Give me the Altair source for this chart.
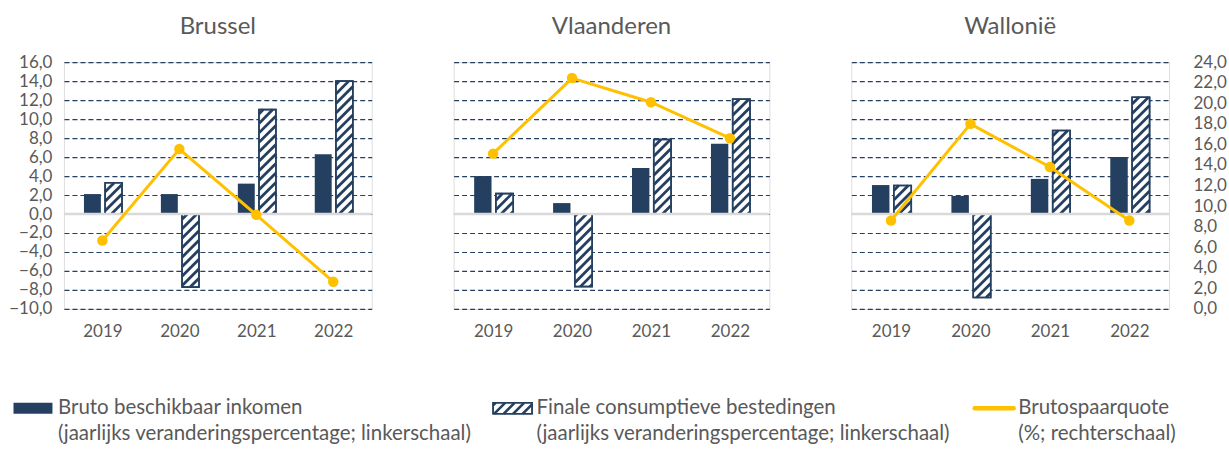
import altair as alt
import pandas as pd
import numpy as np

# ---------------- data ----------------
years = ["2019", "2020", "2021", "2022"]
regions = ["Brussel", "Vlaanderen", "Wallonië"]

inkomen_brussel = [2.1, 2.1, 3.2, 6.3]
inkomen_vlaanderen = [4.0, 1.15, 4.85, 7.4]
inkomen_wallonie = [3.05, 1.9, 3.7, 6.0]

consumptie_brussel = [3.3, -7.7, 11.0, 14.0]
consumptie_vlaanderen = [2.15, -7.65, 7.85, 12.1]
consumptie_wallonie = [3.0, -8.8, 8.8, 12.3]

spaarquote_brussel = [6.65, 15.55, 9.15, 2.65]
spaarquote_vlaanderen = [15.1, 22.45, 20.1, 16.6]
spaarquote_wallonie = [8.6, 18.0, 13.8, 8.6]

left_ticks = [-10, -8, -6, -4, -2, 0, 2, 4, 6, 8, 10, 12, 14, 16]
right_ticks = [0, 2, 4, 6, 8, 10, 12, 14, 16, 18, 20, 22, 24]

legend_line1 = ["Bruto beschikbaar inkomen", "Finale consumptieve bestedingen", "Brutospaarquote"]
legend_line2 = ["(jaarlijks veranderingspercentage; linkerschaal)",
                "(jaarlijks veranderingspercentage; linkerschaal)",
                "(%; rechterschaal)"]

inkomen = [inkomen_brussel, inkomen_vlaanderen, inkomen_wallonie]
consumptie = [consumptie_brussel, consumptie_vlaanderen, consumptie_wallonie]
spaarquote = [spaarquote_brussel, spaarquote_vlaanderen, spaarquote_wallonie]

# ---------------- style ----------------
NAVY = "#243F60"
GOLD = "#FFC000"
GREY = "#595959"
FONT = "Lato"
WIDTHS = [308, 316, 318]
H = 247
LD = [-10, 16]
RD = [0, 24]
SY = H / (LD[1] - LD[0])
PERIOD = 9.5  # vertical hatch period in px

SOLID_OFF = (-0.24, -0.02)
HATCH_OFF = (0.035, 0.255)

# legend placement (px, relative to the origin of the panel that carries it)
LEG_SYM_X = [-50.5, 39.5, 121.5]
LEG_TXT_X = [-6.0, 83.0, 167.0]
LEG_SYM_W = [39, 39, 43]
LEG_SYM_Y = (341.0, 352.0)
LEG_Y1, LEG_Y2 = 346.5, 372.5


def hatch_segments(x0, x1, v, sx, sy, period):
    """45-degree '/' stripes clipped to the bar rectangle, in data units."""
    X0, X1 = x0 * sx, x1 * sx
    Ya, Yb = min(0, v) * sy, max(0, v) * sy
    segs = []
    kmin = int(np.floor((Ya - X1) / period)) - 1
    kmax = int(np.ceil((Yb - X0) / period)) + 1
    for k in range(kmin, kmax + 1):
        c = k * period
        lo = max(X0, Ya - c)
        hi = min(X1, Yb - c)
        if hi - lo > 0.3:
            segs.append({"hx": lo / sx, "hx2": hi / sx,
                         "hy": (lo + c) / sy, "hy2": (hi + c) / sy})
    return segs


def pixel_hatch(X0, X1, Yt, Yb, period):
    """'/' stripes in screen pixels (y down) clipped to a rectangle."""
    segs = []
    k0 = int(np.floor((X0 + Yt) / period)) - 1
    k1 = int(np.ceil((X1 + Yb) / period)) + 1
    for k in range(k0, k1 + 1):
        c = k * period + 3
        lo = max(X0, c - Yb)
        hi = min(X1, c - Yt)
        if hi - lo > 0.5:
            segs.append((lo, c - lo, hi, c - hi))
    return segs


label_expr = "[" + ",".join("'%s'" % y for y in years) + "][floor(datum.value)]"
num_expr = "replace(format(datum.value, '.1f'), '.', ',')"


def legend_layers(i):
    one = pd.DataFrame({"a": [0]})
    sx0 = LEG_SYM_X[i]
    sx1 = sx0 + LEG_SYM_W[i]
    layers = []
    if i == 0:
        layers.append(alt.Chart(one).mark_rect(color=NAVY).encode(
            x=alt.value(sx0), x2=alt.value(sx1),
            y=alt.value(LEG_SYM_Y[0]), y2=alt.value(LEG_SYM_Y[1])))
    elif i == 1:
        layers.append(alt.Chart(one).mark_rect(fill="white", stroke=NAVY, strokeWidth=1.5).encode(
            x=alt.value(sx0), x2=alt.value(sx1),
            y=alt.value(LEG_SYM_Y[0]), y2=alt.value(LEG_SYM_Y[1])))
        for (ax, ay, bx, by) in pixel_hatch(sx0, sx1, LEG_SYM_Y[0], LEG_SYM_Y[1], 9.5):
            layers.append(alt.Chart(one).mark_rule(color=NAVY, strokeWidth=2.6).encode(
                x=alt.value(ax), y=alt.value(ay), x2=alt.value(bx), y2=alt.value(by)))
        layers.append(alt.Chart(one).mark_rect(fill="white", fillOpacity=0, stroke=NAVY,
                                               strokeWidth=1.5).encode(
            x=alt.value(sx0), x2=alt.value(sx1),
            y=alt.value(LEG_SYM_Y[0]), y2=alt.value(LEG_SYM_Y[1])))
    else:
        layers.append(alt.Chart(one).mark_rule(color=GOLD, strokeWidth=4.5, strokeCap="round").encode(
            x=alt.value(sx0 + 2), x2=alt.value(sx1 - 2),
            y=alt.value((LEG_SYM_Y[0] + LEG_SYM_Y[1]) / 2)))
    tdf = pd.DataFrame({"l1": [legend_line1[i]], "l2": [legend_line2[i]]})
    layers.append(alt.Chart(tdf).mark_text(align="left", baseline="middle", font=FONT,
                                           fontSize=20.5, color=GREY).encode(
        x=alt.value(LEG_TXT_X[i]), y=alt.value(LEG_Y1), text="l1:N"))
    layers.append(alt.Chart(tdf).mark_text(align="left", baseline="middle", font=FONT,
                                           fontSize=20.5, color=GREY).encode(
        x=alt.value(LEG_TXT_X[i]), y=alt.value(LEG_Y2), text="l2:N"))
    return layers


def panel(i):
    W = WIDTHS[i]
    SX = W / 4.0
    centers = [k + 0.5 for k in range(len(years))]
    bars = pd.DataFrame({
        "jaar": years,
        "c": centers,
        "inkomen": inkomen[i],
        "consumptie": consumptie[i],
        "spaarquote": spaarquote[i],
    })
    bars["sx0"] = bars["c"] + SOLID_OFF[0]
    bars["sx1"] = bars["c"] + SOLID_OFF[1]
    bars["hx0"] = bars["c"] + HATCH_OFF[0]
    bars["hx1"] = bars["c"] + HATCH_OFF[1]
    bars["zero"] = 0.0

    segs = []
    for _, r in bars.iterrows():
        segs += hatch_segments(r["hx0"], r["hx1"], r["consumptie"], SX, SY, PERIOD)
    hatch = pd.DataFrame(segs)

    xscale = alt.Scale(domain=[0, 4], nice=False, zero=False)
    xaxis = alt.Axis(values=centers, labelExpr=label_expr, domain=False, ticks=False,
                     grid=False, title=None, labelFont=FONT, labelFontSize=17,
                     labelColor=GREY, labelPadding=15)
    lscale = alt.Scale(domain=LD, nice=False, zero=False)
    if i == 0:
        laxis = alt.Axis(values=left_ticks, labelExpr=num_expr,
                         domain=False, ticks=False, title=None, labelFont=FONT, labelFontSize=17,
                         labelColor=GREY, labelPadding=12, grid=True, gridColor=NAVY,
                         gridDash=[5, 3], gridWidth=1.2)
    else:
        laxis = alt.Axis(values=left_ticks, labels=False, domain=False, ticks=False, title=None,
                         grid=True, gridColor=NAVY, gridDash=[5, 3], gridWidth=1.2)

    base = alt.Chart(bars)
    solid = base.mark_rect(color=NAVY).encode(
        x=alt.X("sx0:Q", scale=xscale, axis=xaxis),
        x2="sx1:Q",
        y=alt.Y("inkomen:Q", scale=lscale, axis=laxis),
        y2="zero:Q",
    )
    hbox = base.mark_rect(fill="white", stroke=NAVY, strokeWidth=1.5).encode(
        x=alt.X("hx0:Q", scale=xscale, axis=xaxis),
        x2="hx1:Q",
        y=alt.Y("consumptie:Q", scale=lscale, axis=laxis),
        y2="zero:Q",
    )
    hlines = alt.Chart(hatch).mark_rule(color=NAVY, strokeWidth=2.8).encode(
        x=alt.X("hx:Q", scale=xscale, axis=xaxis),
        x2="hx2:Q",
        y=alt.Y("hy:Q", scale=lscale, axis=laxis),
        y2="hy2:Q",
    )
    hborder = base.mark_rect(fillOpacity=0, fill="white", stroke=NAVY, strokeWidth=1.6).encode(
        x=alt.X("hx0:Q", scale=xscale, axis=xaxis),
        x2="hx1:Q",
        y=alt.Y("consumptie:Q", scale=lscale, axis=laxis),
        y2="zero:Q",
    )
    zero = alt.Chart(pd.DataFrame({"z": [0.0]})).mark_rule(color="#D9D9D9", strokeWidth=2.5).encode(
        y=alt.Y("z:Q", scale=lscale, axis=laxis),
    )
    title = alt.Chart(pd.DataFrame({"t": [regions[i]]})).mark_text(
        align="center", baseline="alphabetic", font=FONT, fontSize=24, color=GREY).encode(
        x=alt.value(W / 2), y=alt.value(-28), text="t:N")

    left = alt.layer(solid, hbox, hlines, hborder, zero, title, *legend_layers(i))

    rscale = alt.Scale(domain=RD, nice=False, zero=False)
    if i == 2:
        raxis = alt.Axis(values=right_ticks, labelExpr=num_expr,
                         orient="right", domain=False, ticks=False, title=None, grid=False,
                         labelFont=FONT, labelFontSize=17, labelColor=GREY, labelPadding=24)
        yr = alt.Y("spaarquote:Q", scale=rscale, axis=raxis)
    else:
        yr = alt.Y("spaarquote:Q", scale=rscale, axis=None)
    line = base.mark_line(color=GOLD, strokeWidth=3).encode(
        x=alt.X("c:Q", scale=xscale, axis=xaxis), y=yr)
    pts = base.mark_circle(color=GOLD, size=110, opacity=1).encode(
        x=alt.X("c:Q", scale=xscale, axis=xaxis), y=yr)
    right = alt.layer(line, pts)

    return alt.layer(left, right).resolve_scale(y="independent").properties(width=W, height=H)


chart = alt.hconcat(panel(0), panel(1), panel(2), spacing=82, bounds="flush").properties(
    padding={"left": 8, "top": 14, "right": 2, "bottom": 2}
).configure_view(stroke=NAVY, strokeWidth=2).configure(background="white")

chart.save("out.html", embed_options={"renderer": "svg", "actions": False})
